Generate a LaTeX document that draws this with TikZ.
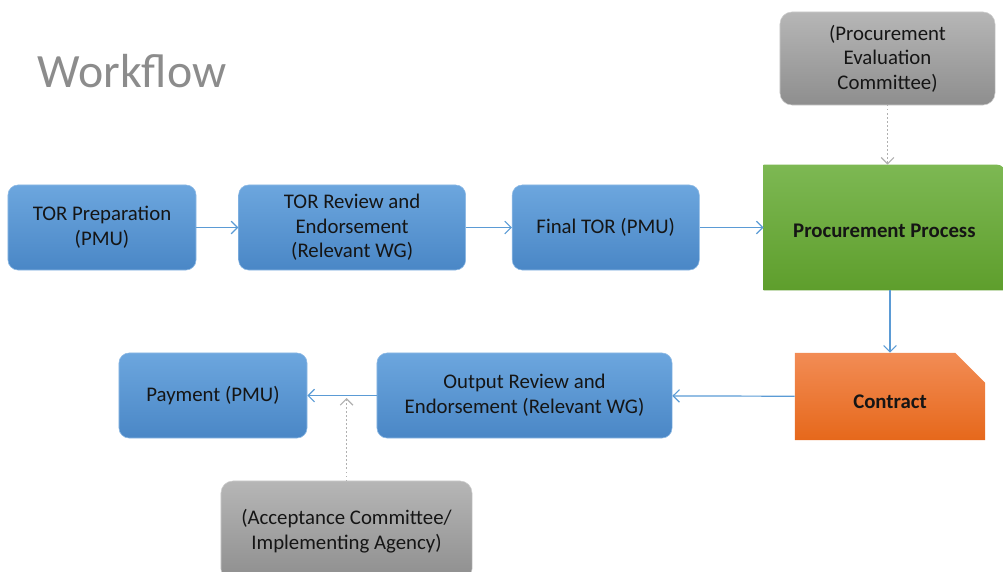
\documentclass[tikz,border=0pt]{standalone}
\usepackage{fontspec}
\setmainfont{Carlito}
\usetikzlibrary{arrows.meta}
\usetikzlibrary{shapes.misc, positioning}

\definecolor{bluetop}{HTML}{6CA6DE}
\definecolor{bluebot}{HTML}{4A87C6}
\definecolor{blueline}{HTML}{8DB9E4}
\definecolor{greentop}{HTML}{7DB853}
\definecolor{greenbot}{HTML}{5E9E2C}
\definecolor{orangetop}{HTML}{F28C55}
\definecolor{orangebot}{HTML}{E6681B}
\definecolor{graytop}{HTML}{B6B6B6}
\definecolor{graybot}{HTML}{8E8E8E}
\definecolor{grayline}{HTML}{CCCCCC}
\definecolor{flowblue}{HTML}{5B9BD5}
\definecolor{dotgray}{HTML}{B0B0B0}
\definecolor{titlegray}{HTML}{8C8C8C}
\definecolor{textdark}{HTML}{151515}

\pgfdeclarelayer{background}
\pgfsetlayers{background,main}

\begin{document}
\begin{tikzpicture}[x=0.025cm, y=-0.025cm, >={Straight Barb[length=4.5pt, width=9pt]}, font=\fontsize{14.8}{17.5}\selectfont, text=textdark,
    stepbox/.style={rounded corners=0.25cm, draw=blueline, top color=bluetop, bottom color=bluebot, minimum height=2.125cm, align=center},
    notebox/.style={rounded corners=0.3cm, draw=grayline, top color=graytop, bottom color=graybot, align=center},
    flow/.style={->, draw=flowblue, line width=0.85pt},
    hint/.style={->, draw=dotgray, dotted, line width=0.85pt}]
    \useasboundingbox (0,0) rectangle (1003,571);

    \node[text=titlegray, font=\fontsize{34}{40}\selectfont] (title) at (132,71) {Workflow};

    % first row
    \node[stepbox, minimum width=4.7cm] (prep) at (102,227.5) {TOR Preparation\\(PMU)};
    \node[stepbox, minimum width=5.675cm] (review) [right = 1.05cm of prep] {TOR Review and\\Endorsement\\(Relevant WG)};
    \node[stepbox, minimum width=4.675cm] (final) [right = 1.15cm of review] {Final TOR (PMU)};
    \node[minimum width=6.025cm, minimum height=3.125cm, text height=0.5cm, font=\fontsize{14.8}{17.5}\selectfont\bfseries] (proc) [right = 1.6cm of final] {Procurement Process};
    \node[notebox, minimum width=5.375cm, minimum height=2.325cm] (pec) at (887.5,58.5) {(Procurement\\Evaluation\\Committee)};

    % second row
    \node[chamfered rectangle, chamfered rectangle corners=north east, chamfered rectangle xsep=0.37cm, chamfered rectangle ysep=0.37cm,
          draw=none, top color=orangetop, bottom color=orangebot, minimum width=4.75cm, minimum height=2.175cm, text height=0.62cm,
          font=\fontsize{14.8}{17.5}\selectfont\bfseries] (contract) at (890,396.5) {Contract};
    \node[stepbox, minimum width=7.375cm] (output) at (524.5,395.5) {Output Review and\\Endorsement (Relevant WG)};
    \node[stepbox, minimum width=4.7cm] (pay) at (213,395.5) {Payment (PMU)};
    \node[notebox, minimum width=6.275cm, minimum height=2.5cm] (accept) at (346.5,531) {(Acceptance Committee/\\Implementing Agency)};
    \coordinate (hit) at (346.5,398);

    \begin{pgfonlayer}{background}
        \shade[top color=greentop, bottom color=greenbot] (proc.south west) -- (proc.north west)
            -- ([xshift=-0.2cm]proc.north east) arc[start angle=90, end angle=0, radius=0.2cm] -- (proc.south east) -- cycle;
    \end{pgfonlayer}

    \draw[flow] (prep) -- (review);
    \draw[flow] (review) -- (final);
    \draw[flow] (final) -- (proc);
    \draw[flow] (contract.north |- proc.south) -- (contract.north);
    \draw[flow] (contract) -- (output);
    \draw[flow] (output) -- (pay);
    \draw[hint] (pec.south) -- (pec.south |- proc.north);
    \draw[hint] (accept) -- (hit);
\end{tikzpicture}
\end{document}
